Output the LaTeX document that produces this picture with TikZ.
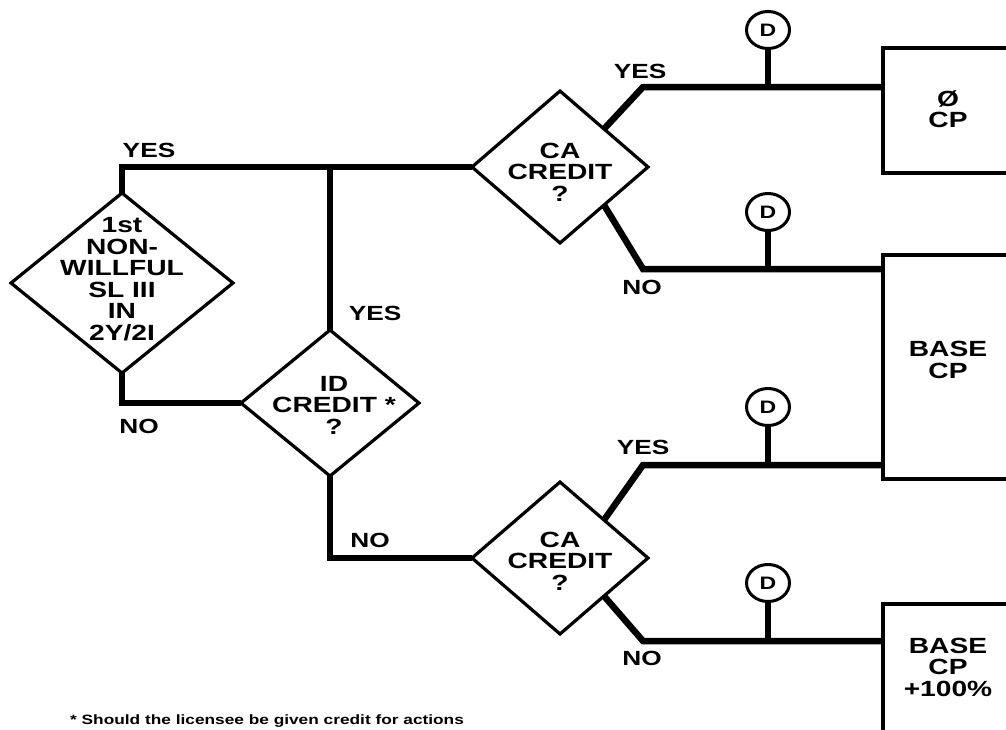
\documentclass[tikz,border=0pt]{standalone}
\usepackage{fontspec}
\setmainfont{Liberation Sans}
\newfontfamily\hv[FakeStretch=1.28]{Liberation Sans}
\usetikzlibrary{shapes.geometric}
\begin{document}
\begin{tikzpicture}[x=1pt,y=-1pt,
  conn/.style={line width=6.5pt},
  dia/.style={draw, diamond, line width=3.2pt, inner sep=0pt, outer sep=0pt},
  outbox/.style={draw, rectangle, line width=3.5pt, inner sep=0pt, outer sep=0pt},
  txt/.style={font=\hv\bfseries\fontsize{22}{21.5}\selectfont, align=center, inner sep=0pt},
  lab/.style={font=\hv\bfseries\fontsize{20.5}{20}\selectfont, inner sep=0pt},
  dcirc/.style={draw, ellipse, line width=3pt, minimum width=43pt, minimum height=37pt, inner sep=0pt, font=\hv\bfseries\fontsize{18}{18}\selectfont},
  stem/.style={line width=5.5pt}]
\useasboundingbox (0,0) rectangle (1006,729);
\clip (0,0) rectangle (1006,729);
% diamonds
\node[dia, minimum width=222pt, minimum height=180pt] (q1) at (122,283) {};
\node[txt] (q1t) at (122,279) {1st\\NON-\\WILLFUL\\SL III\\IN\\2Y/2I};
\node[dia, minimum width=178pt, minimum height=146pt] (id) at (330,403) {};
\node[txt] (idt) at (334,405) {ID\\CREDIT *\\?};
\node[dia, minimum width=176pt, minimum height=152pt] (ca1) at (560,167) {};
\node[txt] (ca1t) at (560,172) {CA\\CREDIT\\?};
\node[dia, minimum width=176pt, minimum height=152pt] (ca2) at (560,558) {};
\node[txt] (ca2t) at (560,561) {CA\\CREDIT\\?};
% boxes
\node[outbox, minimum width=133pt, minimum height=125pt] (b1) at (949.5,110.5) {};
\node[txt] (b1t) at (948,109) {Ø\\CP};
\node[outbox, minimum width=133pt, minimum height=224pt] (b2) at (949.5,367) {};
\node[txt] (b2t) at (948,360) {BASE\\CP};
\node[outbox, minimum width=133pt, minimum height=156pt] (b3) at (949.5,682) {};
\node[txt] (b3t) at (948,667) {BASE\\CP\\+100\%};
% corner coordinates
\coordinate (k1) at (643,87);
\coordinate (k2) at (643,269);
\coordinate (k3) at (643,465);
\coordinate (k4) at (643,641);
\coordinate (j1) at (id.north |- ca1.west);
% connectors
\draw[conn] (q1.north) |- (ca1.west);
\draw[conn] (j1) -- (id.north);
\draw[conn] (q1.south) |- (id.west);
\draw[conn] (id.south) |- (ca2.west);
\draw[conn] (ca1.north east) -- (k1) -- (k1 -| b1.west);
\draw[conn] (ca1.south east) -- (k2) -- (k2 -| b2.west);
\draw[conn] (ca2.north east) -- (k3) -- (k3 -| b2.west);
\draw[conn] (ca2.south east) -- (k4) -- (k4 -| b3.west);
% D markers
\node[dcirc] (d1) at (768,30) {D};
\node[dcirc] (d2) at (768,212) {D};
\node[dcirc] (d3) at (768,407) {D};
\node[dcirc] (d4) at (768,583) {D};
\draw[stem] (d1.south) -- (d1.south |- k1);
\draw[stem] (d2.south) -- (d2.south |- k2);
\draw[stem] (d3.south) -- (d3.south |- k3);
\draw[stem] (d4.south) -- (d4.south |- k4);
% labels
\node[lab] (y1) at (149,150) {YES};
\node[lab] (n1) at (139,426) {NO};
\node[lab] (y2) at (375,313) {YES};
\node[lab] (n2) at (370,540) {NO};
\node[lab] (y3) at (640,71) {YES};
\node[lab] (n3) at (642,287) {NO};
\node[lab] (y4) at (643,447) {YES};
\node[lab] (n4) at (642,658) {NO};
% footnote
\node[anchor=base west, inner sep=0pt, font=\hv\bfseries\fontsize{13.5}{14}\selectfont] (fn) at (70,724.5) {* Should the licensee be given credit for actions};
\end{tikzpicture}
\end{document}
